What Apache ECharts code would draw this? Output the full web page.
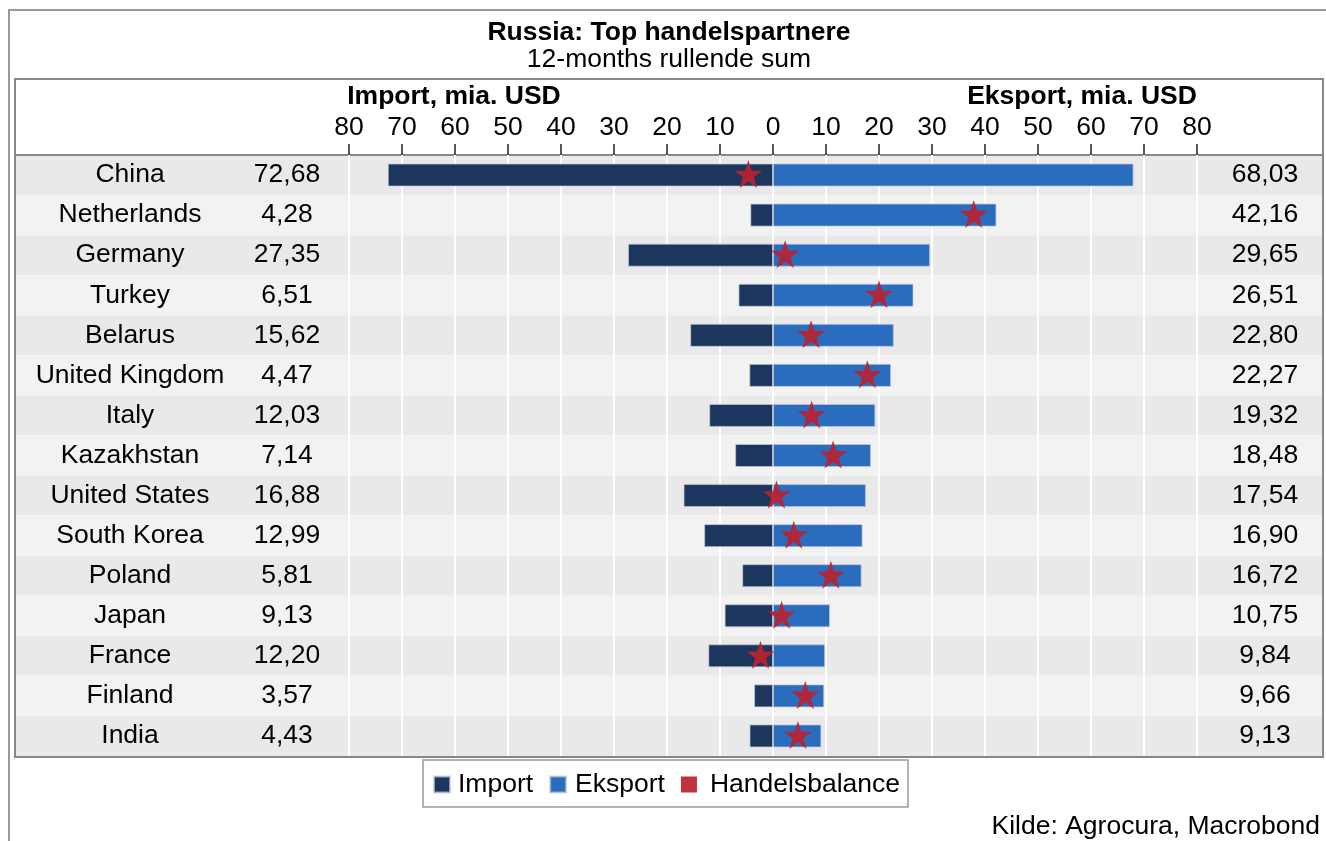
<!DOCTYPE html>
<html>
<head>
<meta charset="utf-8">
<script src="https://cdn.jsdelivr.net/npm/echarts@6/dist/echarts.min.js"></script>
<style>
html,body{margin:0;padding:0;background:#fff;}
#chart{width:1326px;height:841px;}
</style>
</head>
<body>
<div id="chart"></div>
<script>
const countries = ['China','Netherlands','Germany','Turkey','Belarus','United Kingdom','Italy','Kazakhstan','United States','South Korea','Poland','Japan','France','Finland','India'];
const importVals = [72.68,4.28,27.35,6.51,15.62,4.47,12.03,7.14,16.88,12.99,5.81,9.13,12.20,3.57,4.43];
const exportVals = [68.03,42.16,29.65,26.51,22.80,22.27,19.32,18.48,17.54,16.90,16.72,10.75,9.84,9.66,9.13];
const balanceVals = [-4.65,37.88,2.30,20.00,7.18,17.80,7.29,11.34,0.66,3.91,10.91,1.62,-2.36,6.09,4.70];
const titleText = 'Russia: Top handelspartnere';
const subtitleText = '12-months rullende sum';
const importAxisTitle = 'Import, mia. USD';
const exportAxisTitle = 'Eksport, mia. USD';
const sourceText = 'Kilde: Agrocura, Macrobond';
const seriesNames = ['Import','Eksport','Handelsbalance'];

const fmt = v => v.toFixed(2).replace('.', ',');
const FONT = '"Liberation Sans", Arial, sans-serif';
const FS = 26.5;
const starPath = 'path://M50,0 L61.8,35.1 L98.9,35.1 L69,56.9 L80.3,91.9 L50,70.2 L19.7,91.9 L31,56.9 L1.1,35.1 L38.2,35.1 Z';

const chart = echarts.init(document.getElementById('chart'), null, {renderer:'canvas'});
const option = {
  animation: false,
  backgroundColor: '#fff',
  textStyle: {fontFamily: FONT, color: '#000'},
  grid: [
    {left: 16, right: 4, top: 155, height: 601, containLabel: false},
    {left: 349, right: 129, top: 155, height: 601, containLabel: false}
  ],
  xAxis: [
    {gridIndex: 0, type: 'value', min: 0, max: 1, position: 'top', z: 0,
     axisLine: {show: true, onZero: false, lineStyle: {color: '#888', width: 2}},
     axisTick: {show: false}, axisLabel: {show: false}, splitLine: {show: false}},
    {gridIndex: 1, type: 'value', min: -80, max: 80, interval: 10, position: 'top', z: 1,
     axisLine: {show: false},
     axisTick: {show: true, length: 11, lineStyle: {color: '#222', width: 1.5}},
     axisLabel: {show: true, fontSize: FS, color: '#000', fontFamily: FONT, margin: 14,
                 formatter: v => String(Math.abs(v))},
     splitLine: {show: true, lineStyle: {color: '#fff', width: 2}}}
  ],
  yAxis: [
    {gridIndex: 0, type: 'category', data: countries, inverse: true, z: 0,
     axisLine: {show: false}, axisTick: {show: false}, axisLabel: {show: false},
     splitArea: {show: true, areaStyle: {color: ['#e9e9e9', '#f2f2f2']}}},
    {gridIndex: 1, type: 'category', data: countries, inverse: true, position: 'left',
     axisLine: {show: false}, axisTick: {show: false},
     axisLabel: {show: true, fontSize: FS, color: '#000', fontFamily: FONT, margin: 219, align: 'center'}},
    {gridIndex: 1, type: 'category', data: importVals.map(fmt), inverse: true, position: 'left',
     axisLine: {show: false}, axisTick: {show: false},
     axisLabel: {show: true, fontSize: FS, color: '#000', fontFamily: FONT, margin: 62, align: 'center'}},
    {gridIndex: 1, type: 'category', data: exportVals.map(fmt), inverse: true, position: 'right',
     axisLine: {show: false}, axisTick: {show: false},
     axisLabel: {show: true, fontSize: FS, color: '#000', fontFamily: FONT, margin: 68, align: 'center'}}
  ],
  legend: {
    data: [
      {name: seriesNames[0], icon: 'rect', textStyle: {padding: [0, 0, 0, 3]}},
      {name: seriesNames[1], icon: 'rect', textStyle: {padding: [0, 0, 0, 4]}},
      {name: seriesNames[2], icon: 'rect', textStyle: {padding: [0, 0, 0, 8]}}
    ],
    left: 423, top: 760,
    itemWidth: 16, itemHeight: 16, itemGap: 16,
    padding: [11, 8, 9, 10],
    borderColor: '#999', borderWidth: 1.5,
    textStyle: {fontSize: FS, color: '#000', fontFamily: FONT}
  },
  series: [
    {name: seriesNames[0], type: 'bar', xAxisIndex: 1, yAxisIndex: 1,
     data: importVals.map(v => -v), barWidth: 23, barGap: '-100%', z: 3,
     itemStyle: {color: '#1c365e', borderColor: 'rgba(190,200,215,0.7)', borderWidth: 1}},
    {name: seriesNames[1], type: 'bar', xAxisIndex: 1, yAxisIndex: 1,
     data: exportVals, barWidth: 23, barGap: '-100%', z: 3,
     itemStyle: {color: '#2a6cbd', borderColor: 'rgba(190,200,215,0.7)', borderWidth: 1}},
    {name: seriesNames[2], type: 'scatter', xAxisIndex: 1, yAxisIndex: 1,
     data: balanceVals.map((v, i) => [v, i]), symbol: starPath, symbolSize: 28, symbolOffset: [0, -1], z: 5,
     itemStyle: {color: '#b9232f', opacity: 0.92}}
  ],
  graphic: [
    {type: 'text', x: 669, y: 33, z: 100,
     style: {text: titleText, font: 'bold 26.5px ' + FONT, fill: '#000', align: 'center', verticalAlign: 'middle'}},
    {type: 'text', x: 669, y: 60, z: 100,
     style: {text: subtitleText, font: '26.5px ' + FONT, fill: '#000', align: 'center', verticalAlign: 'middle'}},
    {type: 'text', x: 454, y: 97, z: 100,
     style: {text: importAxisTitle, font: 'bold 26.5px ' + FONT, fill: '#000', align: 'center', verticalAlign: 'middle'}},
    {type: 'text', x: 1082, y: 97, z: 100,
     style: {text: exportAxisTitle, font: 'bold 26.5px ' + FONT, fill: '#000', align: 'center', verticalAlign: 'middle'}},
    {type: 'text', x: 1320, y: 827, z: 100,
     style: {text: sourceText, font: '26.5px ' + FONT, fill: '#000', align: 'right', verticalAlign: 'middle'}},
    {type: 'rect', z: 100, shape: {x: 9, y: 10, width: 1400, height: 900},
     style: {fill: 'none', stroke: '#9a9a9a', lineWidth: 2}},
    {type: 'rect', z: 100, shape: {x: 15, y: 79, width: 1308, height: 678},
     style: {fill: 'none', stroke: '#888', lineWidth: 2}}
  ]
};
chart.setOption(option);
</script>
</body>
</html>
